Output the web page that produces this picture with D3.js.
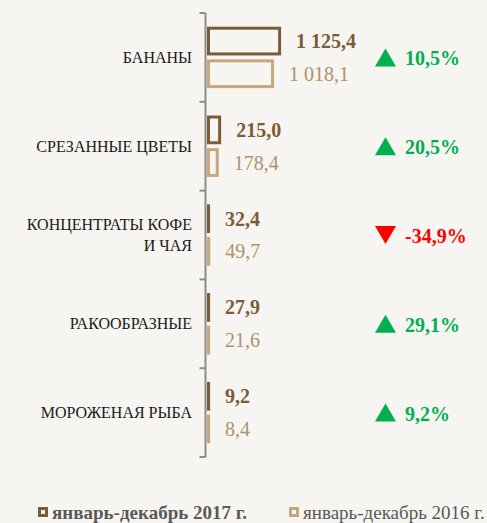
<!DOCTYPE html>
<html>
<head>
<meta charset="utf-8">
<script src="https://cdn.jsdelivr.net/npm/d3@7"></script>
<style>
  html, body { margin: 0; padding: 0; background: #f6f5f1; }
  svg { display: block; font-family: "Liberation Serif", "Times New Roman", serif; }
</style>
</head>
<body>
<div id="chart"></div>
<script>
var categories = [
    ["БАНАНЫ"],
    ["СРЕЗАННЫЕ ЦВЕТЫ"],
    ["КОНЦЕНТРАТЫ КОФЕ", "И ЧАЯ"],
    ["РАКООБРАЗНЫЕ"],
    ["МОРОЖЕНАЯ РЫБА"]
];
var values2017 = [1125.4, 215.0, 32.4, 27.9, 9.2];
var values2016 = [1018.1, 178.4, 49.7, 21.6, 8.4];
var changes = [10.5, 20.5, -34.9, 29.1, 9.2];
var seriesNames = ["январь-декабрь 2017 г.", "январь-декабрь 2016 г."];

var w = 487, h = 523;
var dark = "#7b5c37", light = "#c9a77d";
var green = "#00b050", red = "#ff0000";

var ru = d3.formatLocale({ decimal: ",", thousands: " ", grouping: [3], currency: ["", ""], minus: "-" });
var fmt = ru.format(",.1f");

var svg = d3.select("#chart")
    .append("svg")
    .attr("width", w)
    .attr("height", h);

var idx = d3.range(categories.length);

var y = d3.scaleBand()
    .domain(idx)
    .range([13, 457]);

var yInner = d3.scaleBand()
    .domain([0, 1])
    .range([0, y.bandwidth()])
    .paddingInner(0.12)
    .paddingOuter(0.42);

var x = d3.scaleLinear()
    .domain([0, 1200])
    .range([207, 286]);

//axis line + ticks at the category borders
var axisX = 205.5;
svg.append("line")
    .attr("x1", axisX).attr("x2", axisX)
    .attr("y1", y.range()[0]).attr("y2", y.range()[1])
    .attr("stroke", "#8c8c8c")
    .attr("stroke-width", 2);

svg.append("g")
    .selectAll("line")
    .data(d3.range(categories.length + 1))
    .enter()
    .append("line")
    .attr("x1", axisX - 6).attr("x2", axisX)
    .attr("y1", function(d) { return y.range()[0] + d * y.step(); })
    .attr("y2", function(d) { return y.range()[0] + d * y.step(); })
    .attr("stroke", "#8c8c8c")
    .attr("stroke-width", 2);

//category labels
var lab = svg.append("g")
    .selectAll("text")
    .data(idx)
    .enter()
    .append("text")
    .attr("text-anchor", "end")
    .attr("font-size", 16)
    .attr("fill", "#1a1a1a");

lab.each(function(i) {
    var lines = categories[i];
    var cy = y(i) + y.bandwidth() / 2;
    var lh = 21;
    d3.select(this).selectAll("tspan")
        .data(lines)
        .enter()
        .append("tspan")
        .attr("x", 192)
        .attr("y", function(d, k) { return cy + (k - (lines.length - 1) / 2) * lh; })
        .attr("dy", "0.35em")
        .text(function(d) { return d; });
});

//bars, drawn as outlines
var series = [
    { vals: values2017, color: dark, bold: true },
    { vals: values2016, color: light, bold: false }
];

series.forEach(function(s, si) {
    var g = svg.append("g");
    g.selectAll("rect")
        .data(idx)
        .enter()
        .append("rect")
        .attr("x", x(0) + 1.5)
        .attr("y", function(i) { return y(i) + yInner(si) + 1.5; })
        .attr("width", function(i) { return Math.max(x(s.vals[i]) - x(0) - 3, 0.1); })
        .attr("height", yInner.bandwidth() - 3)
        .attr("fill", "none")
        .attr("stroke", s.color)
        .attr("stroke-width", 3);

    g.selectAll("text")
        .data(idx)
        .enter()
        .append("text")
        .attr("x", function(i) { return Math.max(x(s.vals[i]), x(0) + 3) + 15; })
        .attr("y", function(i) { return y(i) + yInner(si) + yInner.bandwidth() / 2; })
        .attr("dy", "0.35em")
        .attr("font-size", 20)
        .attr("font-weight", s.bold ? "bold" : "normal")
        .attr("fill", s.bold ? dark : "#b0926a")
        .text(function(i) { return fmt(s.vals[i]); });
});

//change markers
var ch = svg.append("g")
    .selectAll("g")
    .data(idx)
    .enter()
    .append("g")
    .attr("transform", function(i) { return "translate(0," + (y(i) + y.bandwidth() / 2) + ")"; });

ch.append("path")
    .attr("d", function(i) {
        return changes[i] < 0
            ? "M375,-9L396,-9L385.5,9Z"
            : "M375,9L396,9L385.5,-9Z";
    })
    .attr("fill", function(i) { return changes[i] < 0 ? red : green; });

ch.append("text")
    .attr("x", 405)
    .attr("y", 1)
    .attr("dy", "0.35em")
    .attr("font-size", 20)
    .attr("font-weight", "bold")
    .attr("fill", function(i) { return changes[i] < 0 ? red : green; })
    .text(function(i) { return ru.format(".1f")(changes[i]) + "%"; });

//legend
var legX = [38, 289];
var leg = svg.append("g")
    .selectAll("g")
    .data(seriesNames)
    .enter()
    .append("g")
    .attr("transform", function(d, i) { return "translate(" + legX[i] + ",512)"; });

leg.append("rect")
    .attr("x", 1.5).attr("y", -3.5)
    .attr("width", 7).attr("height", 7)
    .attr("fill", "none")
    .attr("stroke", function(d, i) { return i == 0 ? dark : light; })
    .attr("stroke-width", 3);

leg.append("text")
    .attr("x", 14)
    .attr("dy", "0.35em")
    .attr("font-size", 19)
    .attr("font-weight", function(d, i) { return i == 0 ? "bold" : "normal"; })
    .attr("fill", "#595959")
    .text(function(d) { return d; });
</script>
</body>
</html>
